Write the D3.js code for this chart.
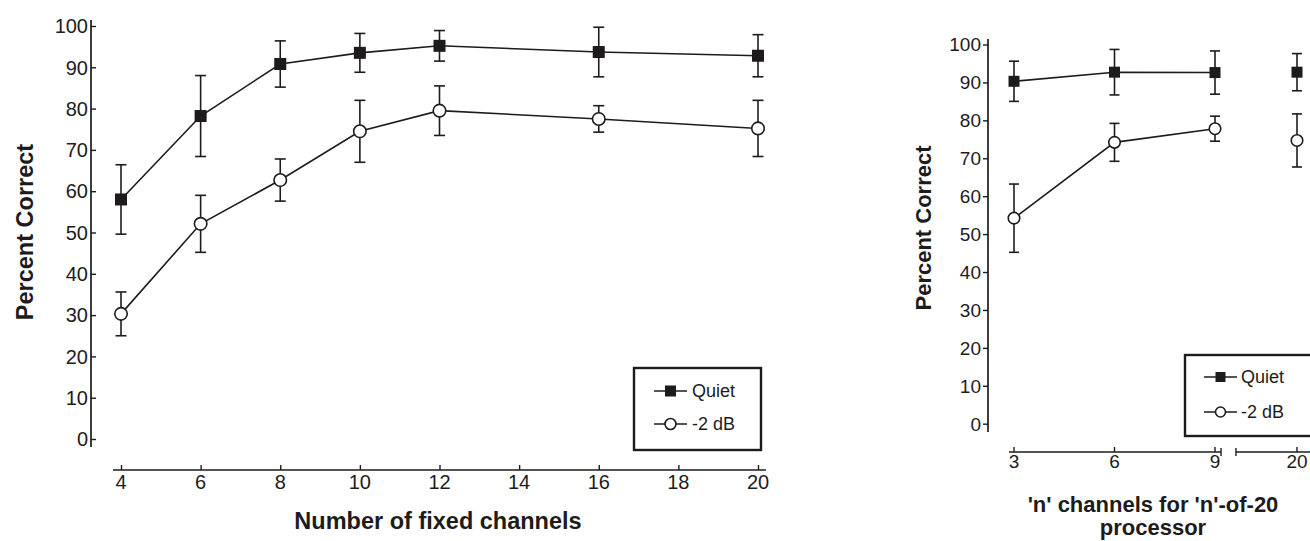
<!DOCTYPE html>
<html>
<head>
<meta charset="utf-8">
<script src="https://cdn.jsdelivr.net/npm/d3@7"></script>
<style>
  html, body { margin: 0; padding: 0; background: #fff; }
  svg { display: block; font-family: "Liberation Sans", Arial, Helvetica, sans-serif; }
</style>
</head>
<body>
<svg id="chart" width="1310" height="541"></svg>
<script>
// ---------- DATA ----------
const leftChannels = [4, 6, 8, 10, 12, 16, 20];
const leftQuiet = [58.0, 78.2, 90.8, 93.5, 95.2, 93.7, 92.8];
const leftQuietErr = [8.4, 9.8, 5.6, 4.7, 3.7, 6.0, 5.1];
const leftNoise = [30.3, 52.1, 62.7, 74.5, 79.5, 77.5, 75.2];
const leftNoiseErr = [5.3, 6.9, 5.1, 7.5, 6.0, 3.2, 6.8];
const leftXTicks = [4, 6, 8, 10, 12, 14, 16, 18, 20];

const rightChannels = [3, 6, 9, 20];
const rightQuiet = [90.3, 92.7, 92.6, 92.7];
const rightQuietErr = [5.3, 6.0, 5.7, 4.9];
const rightNoise = [54.2, 74.2, 77.8, 74.7];
const rightNoiseErr = [9.0, 5.0, 3.3, 7.0];
const rightConnected = [3, 6, 9];  // points joined by a line

const yTicks = [0, 10, 20, 30, 40, 50, 60, 70, 80, 90, 100];
const seriesNames = ["Quiet", "-2 dB"];
const yTitle = "Percent Correct";
const leftXTitle = "Number of fixed channels";
const rightXTitle = ["'n' channels for 'n'-of-20", "processor"];

// ---------- DRAW ----------
const ink = "#1e1b1c";
const sw = 1.6;
const svg = d3.select("#chart");

function marker(g, type, cx, cy, size) {
  if (type === "square") {
    g.append("rect").attr("x", cx - size / 2).attr("y", cy - size / 2)
      .attr("width", size).attr("height", size).attr("fill", ink);
  } else {
    g.append("circle").attr("cx", cx).attr("cy", cy).attr("r", size / 2)
      .attr("fill", "#fff").attr("stroke", ink).attr("stroke-width", sw);
  }
}

function drawSeries(g, xs, ys, errs, x, y, type, size, cap, connected) {
  const pts = xs.map((v, i) => ({ x: v, y: ys[i], e: errs[i] }));
  const linePts = pts.filter(p => connected(p.x));
  g.append("path")
    .attr("d", d3.line().x(p => x(p.x)).y(p => y(p.y))(linePts))
    .attr("fill", "none").attr("stroke", ink).attr("stroke-width", sw);
  pts.forEach(p => {
    const cx = x(p.x);
    const eb = g.append("g").attr("stroke", ink).attr("stroke-width", sw);
    eb.append("line").attr("x1", cx).attr("x2", cx).attr("y1", y(p.y + p.e)).attr("y2", y(p.y - p.e));
    eb.append("line").attr("x1", cx - cap).attr("x2", cx + cap).attr("y1", y(p.y + p.e)).attr("y2", y(p.y + p.e));
    eb.append("line").attr("x1", cx - cap).attr("x2", cx + cap).attr("y1", y(p.y - p.e)).attr("y2", y(p.y - p.e));
  });
  pts.forEach(p => marker(g, type, x(p.x), y(p.y), size));
}

function legend(g, x0, y0, w, h, rows, lineX1, lineX2, textX, fs, msize) {
  g.append("rect").attr("x", x0).attr("y", y0).attr("width", w).attr("height", h)
    .attr("fill", "#fff").attr("stroke", ink).attr("stroke-width", 2.4);
  rows.forEach((r, i) => {
    g.append("line").attr("x1", lineX1).attr("x2", lineX2).attr("y1", r.y).attr("y2", r.y)
      .attr("stroke", ink).attr("stroke-width", sw);
    marker(g, r.type, (lineX1 + lineX2) / 2, r.y, msize);
    g.append("text").attr("x", textX).attr("y", r.y).attr("dy", "0.36em")
      .attr("font-size", fs).attr("fill", ink).text(seriesNames[i]);
  });
}

// ===== LEFT PANEL =====
{
  const g = svg.append("g");
  const x = d3.scaleLinear().domain([4, 20]).range([121, 758]);
  const y = d3.scaleLinear().domain([0, 100]).range([439, 26]);

  // y axis (ticks pointing inward)
  const ya = g.append("g").attr("transform", "translate(91,0)")
    .call(d3.axisRight(y).tickValues(yTicks).tickSize(5).tickFormat(""));
  ya.select(".domain").remove();
  ya.selectAll("line").attr("stroke", ink).attr("stroke-width", 1.4);
  g.append("line").attr("x1", 91).attr("x2", 91).attr("y1", 20).attr("y2", 447)
    .attr("stroke", ink).attr("stroke-width", 1.7);
  g.selectAll(".ylab").data(yTicks).join("text")
    .attr("x", 88).attr("y", d => y(d)).attr("dy", "0.36em").attr("text-anchor", "end")
    .attr("font-size", 20).attr("fill", ink).text(d => d);

  // x axis (ticks pointing up)
  const xa = g.append("g").attr("transform", "translate(0,470)")
    .call(d3.axisTop(x).tickValues(leftXTicks).tickSize(5).tickFormat(""));
  xa.select(".domain").remove();
  xa.selectAll("line").attr("stroke", ink).attr("stroke-width", 1.4);
  g.append("line").attr("x1", 113).attr("x2", 766).attr("y1", 470).attr("y2", 470)
    .attr("stroke", ink).attr("stroke-width", 1.7);
  g.selectAll(".xlab").data(leftXTicks).join("text")
    .attr("x", d => x(d)).attr("y", 489).attr("text-anchor", "middle")
    .attr("font-size", 20).attr("fill", ink).text(d => d);

  // titles
  g.append("text").attr("transform", "translate(33,232) rotate(-90)")
    .attr("text-anchor", "middle").attr("font-size", 23.5).attr("font-weight", "bold")
    .attr("fill", ink).text(yTitle);
  g.append("text").attr("x", 438).attr("y", 529).attr("text-anchor", "middle")
    .attr("font-size", 23.5).attr("font-weight", "bold").attr("fill", ink).text(leftXTitle);

  drawSeries(g, leftChannels, leftQuiet, leftQuietErr, x, y, "square", 12, 5.5, () => true);
  drawSeries(g, leftChannels, leftNoise, leftNoiseErr, x, y, "circle", 12.5, 5.5, () => true);

  legend(g, 634, 368, 127, 82,
    [{ type: "square", y: 391 }, { type: "circle", y: 424 }],
    654, 687, 692, 18, 11);
}

// ===== RIGHT PANEL =====
{
  const g = svg.append("g");
  const xA = d3.scaleLinear().domain([3, 9]).range([1014, 1215]);
  const xB = d3.scaleLinear().domain([20, 21]).range([1297, 1330]);
  const x = v => (v <= 9 ? xA(v) : xB(v));
  const y = d3.scaleLinear().domain([0, 100]).range([423.7, 44.5]);

  // y axis (ticks pointing outward)
  const ya = g.append("g").attr("transform", "translate(988,0)")
    .call(d3.axisLeft(y).tickValues(yTicks).tickSize(5).tickFormat(""));
  ya.select(".domain").remove();
  ya.selectAll("line").attr("stroke", ink).attr("stroke-width", 1.4);
  g.append("line").attr("x1", 988).attr("x2", 988).attr("y1", 39).attr("y2", 432)
    .attr("stroke", ink).attr("stroke-width", 1.7);
  g.selectAll(".ylab").data(yTicks).join("text")
    .attr("x", 981).attr("y", d => y(d)).attr("dy", "0.36em").attr("text-anchor", "end")
    .attr("font-size", 19).attr("fill", ink).text(d => d);

  // broken x axis
  const axY = 452;
  const seg = [[1009, xA(9.18)], [xB(18.15), 1320]];
  seg.forEach(s => g.append("line").attr("x1", s[0]).attr("x2", s[1]).attr("y1", axY).attr("y2", axY)
    .attr("stroke", ink).attr("stroke-width", 1.7));
  [seg[0][1], seg[1][0]].forEach(bx => g.append("line").attr("x1", bx).attr("x2", bx)
    .attr("y1", axY - 4).attr("y2", axY + 4).attr("stroke", ink).attr("stroke-width", 1.4));
  g.selectAll(".xt").data(rightChannels).join("line")
    .attr("x1", d => x(d)).attr("x2", d => x(d)).attr("y1", axY).attr("y2", axY - 5)
    .attr("stroke", ink).attr("stroke-width", 1.4);
  g.selectAll(".xlab").data(rightChannels).join("text")
    .attr("x", d => x(d)).attr("y", 468).attr("text-anchor", "middle")
    .attr("font-size", 19).attr("fill", ink).text(d => d);

  // titles
  g.append("text").attr("transform", "translate(931,228) rotate(-90)")
    .attr("text-anchor", "middle").attr("font-size", 22).attr("font-weight", "bold")
    .attr("fill", ink).text(yTitle);
  g.selectAll(".xt2").data(rightXTitle).join("text")
    .attr("x", 1153).attr("y", (d, i) => 512 + i * 23).attr("text-anchor", "middle")
    .attr("font-size", 22).attr("font-weight", "bold").attr("fill", ink).text(d => d);

  const conn = v => rightConnected.includes(v);
  drawSeries(g, rightChannels, rightQuiet, rightQuietErr, x, y, "square", 11, 5, conn);
  drawSeries(g, rightChannels, rightNoise, rightNoiseErr, x, y, "circle", 11.5, 5, conn);

  legend(g, 1185, 355, 140, 81,
    [{ type: "square", y: 377 }, { type: "circle", y: 412 }],
    1204, 1237, 1241, 18, 10);
}
</script>
</body>
</html>
